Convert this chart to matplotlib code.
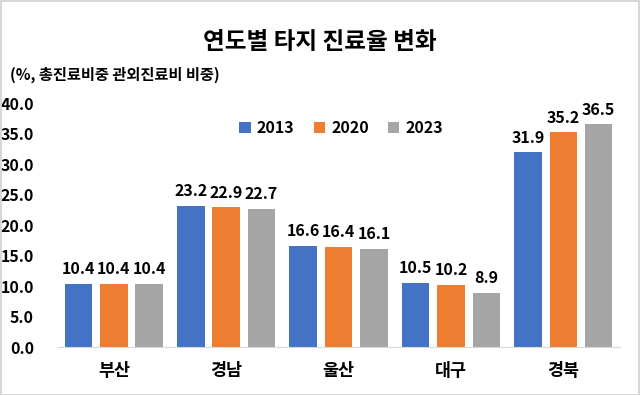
import matplotlib.pyplot as plt
import numpy as np
from matplotlib.patches import Rectangle

plt.rcParams['font.family'] = ['Noto Sans CJK KR', 'DejaVu Sans']

# data
regions = ['부산', '경남', '울산', '대구', '경북']
years = ['2013', '2020', '2023']
v2013 = [10.4, 23.2, 16.6, 10.5, 31.9]
v2020 = [10.4, 22.9, 16.4, 10.2, 35.2]
v2023 = [10.4, 22.7, 16.1, 8.9, 36.5]
colors = ['#4472C4', '#ED7D31', '#A5A5A5']

fig = plt.figure(figsize=(6.4, 3.95), dpi=100)
ax = fig.add_axes([0.09, 0.1215, 0.878, 0.6175])

x = np.arange(len(regions))
w = 0.245
off = 0.315
for i, (vals, c, yr) in enumerate(zip([v2013, v2020, v2023], colors, years)):
    bars = ax.bar(x + (i - 1) * off, vals, w, color=c, label=yr)
    for b, v in zip(bars, vals):
        ax.text(b.get_x() + b.get_width() / 2, v + 1.1, f'{v:.1f}', ha='center', va='bottom',
                fontsize=11.5, fontweight='bold', clip_on=False)

ax.set_xlim(-0.5, len(regions) - 0.5)
ax.set_ylim(0, 40)
ax.set_yticks(np.arange(0, 41, 5))
ax.set_yticklabels([f'{t:.1f}' for t in np.arange(0, 41, 5)], fontsize=11.5, fontweight='bold')
ax.set_xticks(x)
ax.set_xticklabels(regions, fontsize=12.5, fontweight='bold')
ax.tick_params(axis='both', length=0)
ax.tick_params(axis='x', pad=11)
ax.tick_params(axis='y', pad=17)
for s in ['top', 'right', 'left']:
    ax.spines[s].set_visible(False)
ax.spines['bottom'].set_color('#D9D9D9')

ax.legend(loc='upper center', bbox_to_anchor=(0.505, 0.99), ncol=3, frameon=False,
          prop={'weight': 'bold', 'size': 11.5}, handlelength=0.7, handleheight=0.7,
          handletextpad=0.4, columnspacing=1.2)

fig.text(0.5, 0.893, '연도별 타지 진료율 변화', ha='center', va='center', fontsize=17, fontweight='bold')
fig.text(0.016, 0.81, '(%, 총진료비중 관외진료비 비중)', ha='left', va='center', fontsize=11, fontweight='bold')

fig.add_artist(Rectangle((0.001, 0.001), 0.997, 0.997, transform=fig.transFigure,
                         fill=False, edgecolor='#D0D0D0', linewidth=1.2))

fig.savefig('out.png', dpi=100)
